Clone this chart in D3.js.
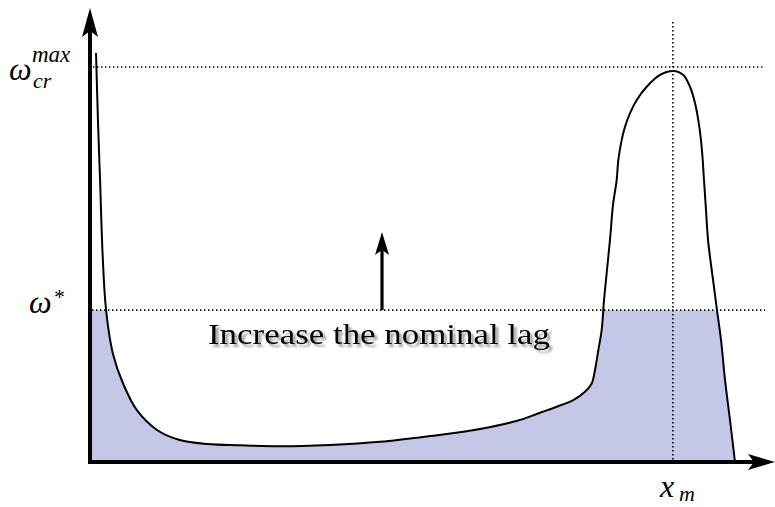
<!DOCTYPE html>
<html>
<head>
<meta charset="utf-8">
<script src="https://cdn.jsdelivr.net/npm/d3@7"></script>
<style>
  html, body { margin: 0; padding: 0; background: #fff; }
  svg { display: block; }
  .serif { font-family: "Liberation Serif", "DejaVu Serif", serif; }
</style>
</head>
<body>
<svg id="chart" width="775" height="507"></svg>
<script>
// Critical frequency profile along the track (arbitrary units)
const curveX = [0.9, 1.2, 1.5, 1.9, 2.4, 3.4, 4.9, 7.0, 10.0, 13.4, 17.5, 22.4, 28.4, 35.8, 43.3, 50.7,
  58.2, 64.2, 67.16, 69.66, 72.13, 73.88, 74.88, 75.37, 75.87, 76.37, 76.72, 77.16, 77.61, 78.06,
  78.61, 78.85, 79.36, 79.85, 80.6, 81.6, 83.09, 85.07, 87.06, 88.55, 89.55, 90.3, 90.79, 91.19,
  91.45, 91.64, 91.94, 92.24, 92.6, 92.99, 93.58, 94.18, 94.78, 95.52, 96.27];
const curveY = [93.2, 77.2, 64.3, 46.7, 34.6, 24.8, 18.0, 11.8, 7.3, 5.0, 4.1, 3.8, 3.6, 3.9, 4.6, 5.9,
  7.5, 9.6, 11.23, 12.6, 14.1, 16.0, 17.9, 20.96, 25.5, 30.1, 36.9, 43.7, 50.6, 58.6,
  64.25, 68.8, 73.4, 76.4, 79.5, 82.5, 85.5, 88.2, 89.1, 88.2, 85.5, 81.8, 77.9, 73.4,
  68.8, 64.25, 57.4, 50.6, 46.0, 41.5, 34.6, 27.8, 18.7, 9.57, 0];

// Reference levels
const omegaStar = 34.6;   // ω*
const omegaMax = 90;      // ω_cr^max
const xM = 87;            // x_m (location of the maximum)

const svg = d3.select("#chart");

const x = d3.scaleLinear().domain([0, 100]).range([90, 760]);
const y = d3.scaleLinear().domain([0, 90]).range([462, 67]);

const pts = curveX.map((v, i) => ({ x: v, y: curveY[i] }));

const line = d3.line()
  .x(d => x(d.x))
  .y(d => y(d.y))
  .curve(d3.curveCatmullRom.alpha(0.5));

// Shaded region: everything under the curve that lies below ω*
const defs = svg.append("defs");
defs.append("clipPath").attr("id", "below-star")
  .append("rect")
  .attr("x", x(0))
  .attr("y", y(omegaStar))
  .attr("width", x(100) - x(0))
  .attr("height", y(0) - y(omegaStar));

const first = pts[0], last = pts[pts.length - 1];
const areaPath = line(pts) +
  `L${x(last.x)},${y(0)}L${x(0)},${y(0)}L${x(0)},${y(first.y)}Z`;

svg.append("path")
  .attr("d", areaPath)
  .attr("fill", "#c4c7e6")
  .attr("clip-path", "url(#below-star)");

// Dotted guide lines
const dotted = g => g.attr("stroke", "#000").attr("stroke-width", 1.6)
  .attr("stroke-dasharray", "1.4,2.6").attr("fill", "none");

svg.append("line").call(dotted)
  .attr("x1", 93).attr("x2", 765).attr("y1", y(omegaMax)).attr("y2", y(omegaMax));
svg.append("line").call(dotted)
  .attr("x1", 92).attr("x2", 765).attr("y1", y(omegaStar)).attr("y2", y(omegaStar));
svg.append("line").call(dotted)
  .attr("x1", x(xM)).attr("x2", x(xM)).attr("y1", 22).attr("y2", y(0));

// The curve
svg.append("path")
  .attr("d", line(pts))
  .attr("fill", "none")
  .attr("stroke", "#000")
  .attr("stroke-width", 2);

// Axes with arrowheads
svg.append("line")
  .attr("x1", x(0)).attr("x2", x(0)).attr("y1", y(0) + 2).attr("y2", 30)
  .attr("stroke", "#000").attr("stroke-width", 4);
svg.append("path")
  .attr("d", `M${x(0)},8 L${x(0) + 8},37 L${x(0)},31 L${x(0) - 8},37 Z`)
  .attr("fill", "#000");

svg.append("line")
  .attr("x1", x(0) - 2).attr("x2", 757).attr("y1", y(0)).attr("y2", y(0))
  .attr("stroke", "#000").attr("stroke-width", 4);
svg.append("path")
  .attr("d", `M775,${y(0)} L748,${y(0) - 8} L754,${y(0)} L748,${y(0) + 8} Z`)
  .attr("fill", "#000");

// Annotation arrow
const ax = 382;
svg.append("line")
  .attr("x1", ax).attr("x2", ax).attr("y1", y(omegaStar)).attr("y2", 250)
  .attr("stroke", "#000").attr("stroke-width", 3.2);
svg.append("path")
  .attr("d", `M${ax},232 L${ax + 7},255 L${ax},250 L${ax - 7},255 Z`)
  .attr("fill", "#000");

// Annotation text with a soft grey drop shadow
const shadow = defs.append("filter").attr("id", "shadow")
  .attr("x", "-10%").attr("y", "-40%").attr("width", "120%").attr("height", "180%");
shadow.append("feGaussianBlur").attr("in", "SourceAlpha").attr("stdDeviation", 0.9).attr("result", "b");
shadow.append("feOffset").attr("in", "b").attr("dx", 3).attr("dy", 3).attr("result", "o");
shadow.append("feComponentTransfer").attr("in", "o").attr("result", "g")
  .append("feFuncA").attr("type", "linear").attr("slope", 0.38);
const merge = shadow.append("feMerge");
merge.append("feMergeNode").attr("in", "g");
merge.append("feMergeNode").attr("in", "SourceGraphic");

svg.append("text")
  .attr("class", "serif")
  .attr("x", 379).attr("y", 344)
  .attr("font-size", 29)
  .attr("text-anchor", "middle")
  .attr("textLength", 342)
  .attr("lengthAdjust", "spacingAndGlyphs")
  .attr("fill", "#000")
  .attr("filter", "url(#shadow)")
  .text("Increase the nominal lag");

// Math labels
const math = (txt, px, py, size) => svg.append("text")
  .attr("class", "serif")
  .attr("x", px).attr("y", py)
  .attr("font-style", "italic")
  .attr("font-size", size)
  .attr("fill", "#000")
  .text(txt);

// ω_cr^max
math("ω", 9, 80, 32);
math("max", 32, 62, 23);
math("cr", 33, 88, 22);

// ω*
math("ω", 29, 313, 32);
math("*", 54, 304, 22).attr("font-style", "normal");

// x_m
math("x", 660, 497, 32);
math("m", 679, 501, 22);
</script>
</body>
</html>
